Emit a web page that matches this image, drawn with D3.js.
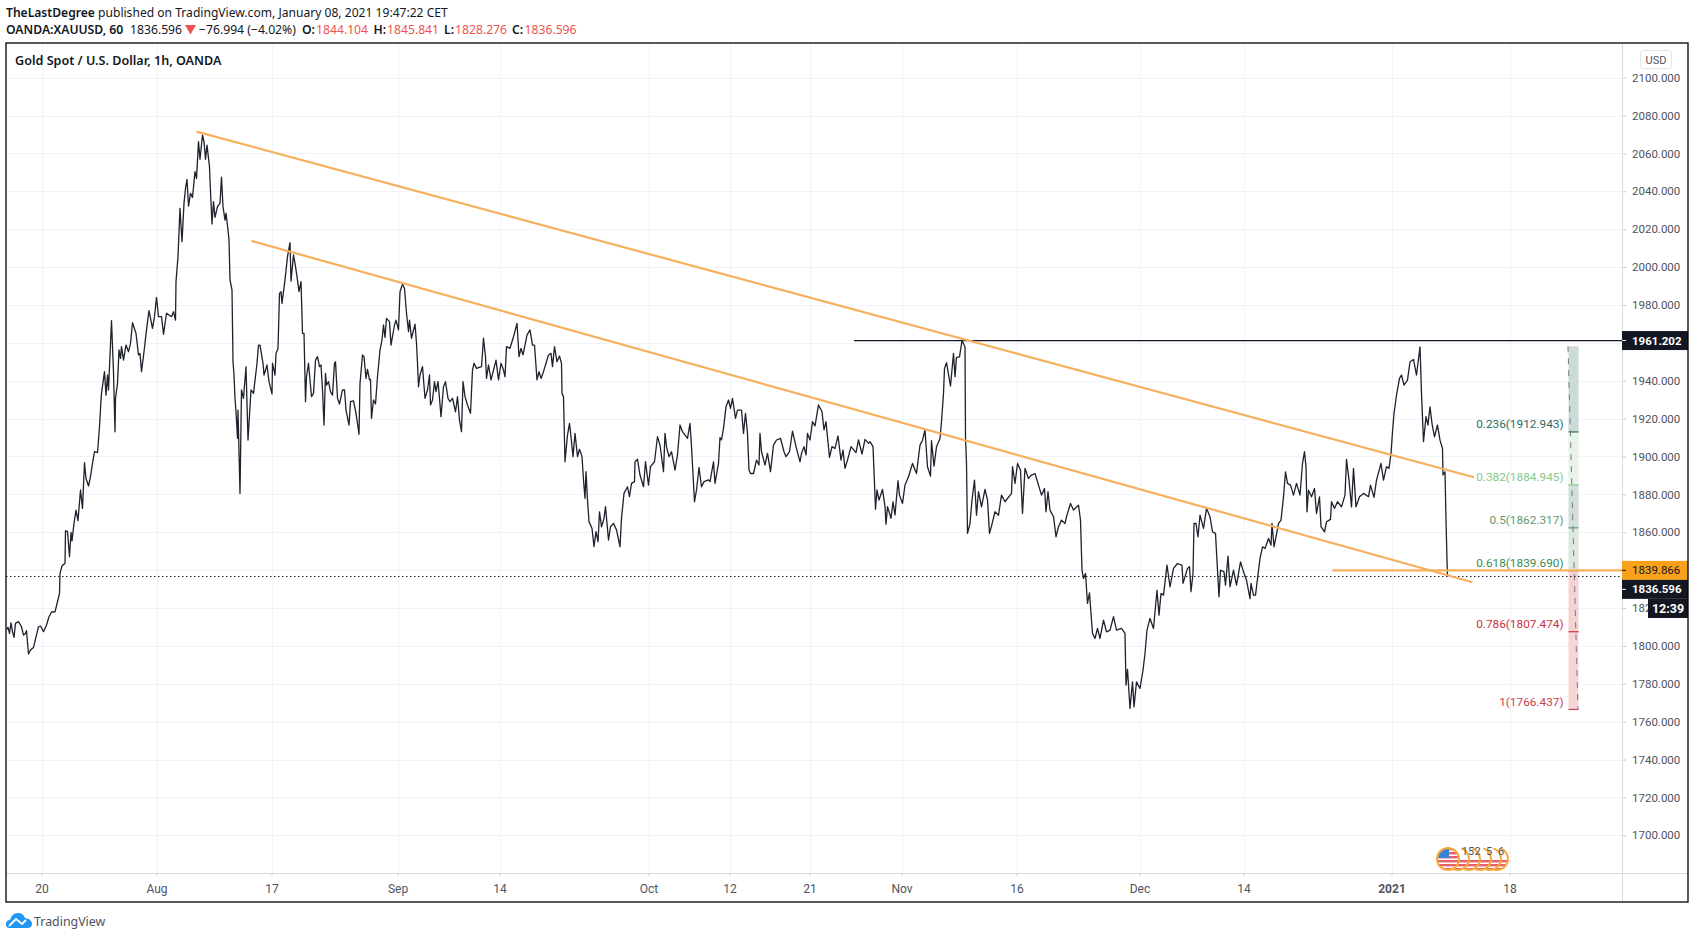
<!DOCTYPE html>
<html>
<head>
<meta charset="utf-8">
<script src="https://cdn.jsdelivr.net/npm/d3@7"></script>
<style>
  body { margin: 0; background: #fff; font-family: Roboto, sans-serif; }
  svg { display: block; }
  .grid line { stroke: #f0f3fa; }
  .axis text { font-family: Roboto, sans-serif; font-size: 11.5px; fill: #50535e; }
  .axis line { stroke: #c4c7cf; }
  .head { font-family: "Noto Sans", sans-serif; font-size: 12.2px; fill: #131722; }
</style>
</head>
<body>
<div id="my_chart"></div>
<script>
// values: [bar index, close]
var priceTrace = [[0,1808.7],[2,1809.8],[5,1806.6],[8,1812.2],[11,1807.5],[14,1804.5],[17,1811.9],[23,1812.8],[29,1810.1],[33,1805.7],[37,1806.6],[39,1808],[43,1795.7],[47,1797.8],[53,1799.2],[58,1804.8],[63,1810.1],[67,1810.5],[73,1807.5],[79,1811],[84,1815.4],[89,1817.9],[96,1818],[101,1823.3],[105,1827.7],[106,1838.3],[110,1842.2],[116,1843.6],[117,1860.8],[121,1860.3],[125,1847.1],[128,1859.9],[130,1855.4],[134,1864.7],[138,1871.7],[142,1866.1],[147,1882.3],[151,1872.6],[155,1896.7],[158,1888.4],[163,1884.4],[167,1889.3],[171,1896.4],[175,1902.5],[181,1902],[185,1915.7],[188,1929.8],
[189,1933.3],[195,1944.8],[198,1932.4],[201,1943],[203,1935.1],[209,1971.7],[213,1944.8],[216,1913],[217,1930.7],[221,1938.6],[224,1956.2],[227,1951.8],[229,1958],[233,1950.9],[238,1958.8],[243,1955.3],[247,1959.7],[251,1970.6],[258,1965],[263,1953.6],[266,1954.4],[269,1944.8],[274,1955.3],[279,1966.8],[284,1977],[291,1967.6],[295,1973.8],[299,1984],[303,1973.8],[309,1973.8],[313,1964.5],[319,1975.6],[329,1973.8],[333,1976.4],[337,1972],[338,1992.3],[342,2005.5],[346,2031],[350,2013.4],[354,2033.6],[357,2041.6],[360,2046.3],[363,2032.2],[367,2038.9],[371,2036.8],[376,2050.4],[379,2046.8],[383,2066.2],[386,2056.9],[391,2069.7],[394,2066.2],[397,2056.9],[400,2064.4],[405,2053],[406,2046],[410,2022.7],[413,2034.5],[416,2026.2],[421,2031.9],[426,2033.6],[429,2047.4],[432,2031.9],[436,2024.8],[438,2028.4],[442,2019.6],[444,2014.3],[446,1993.2],[450,1987.9],[452,1950],[454,1943],[456,1930.7],[458,1923.6],[461,1909.6],[462,1924.5],[466,1880.5],[469,1935.1],[473,1930.7],[478,1947.4],[482,1908.7],[488,1935.1],[493,1933.3],[500,1949.2],[503,1958.8],[506,1958.8],[512,1949.2],[514,1943],[520,1948.3],[524,1939.5],[530,1933],[531,1949.2],[536,1943],[538,1954.4],[542,1957],[545,1986.1],[548,1987],[550,1980.8],[556,1993.2],[561,2005.5],[566,2012.9],[568,1992.6],[573,2006.4],[576,2002],[580,1994.9],[584,1987],
[588,1992.3],[591,1965],[594,1965],[597,1928.9],[599,1942.1],[603,1949.2],[606,1940.4],[609,1931.6],[613,1933.3],[617,1950.9],[621,1952.7],[625,1947.4],[628,1948.3],[631,1935.1],[634,1916.6],[637,1943.9],[639,1937.7],[643,1939.5],[647,1934.2],[651,1932.4],[655,1949.2],[657,1950],[661,1930.7],[665,1927.7],[671,1935.1],[675,1935.1],[678,1924.5],[684,1916.6],[687,1928.9],[693,1929.4],[698,1922.8],[701,1917.5],[704,1911.7],[706,1938.6],[711,1953.6],[714,1952.7],[718,1941.2],[721,1946],[725,1940.4],[727,1940.7],[729,1920.1],[733,1929.8],[737,1927.7],[741,1942.1],[746,1956.2],[750,1961.5],[753,1969.4],[756,1962.9],[759,1972.9],[765,1971.2],[768,1958.8],[775,1969.4],[778,1972],[783,1966.8],[786,1987],[791,1990.9],[795,1988.8],[799,1975.6],[803,1965.9],[805,1972],[809,1962.4],[816,1969.9],[819,1959.7],[821,1949.2],[823,1936.8],[826,1943],[831,1947.4],[836,1930.7],[841,1935.1],[845,1943],[847,1927.2],[851,1929.8],[855,1939.5],[858,1934.2],[862,1939.5],[865,1930.7],[868,1921],[873,1936.8],[877,1939.5],[882,1930.7],[886,1928.9],[891,1930.7],[897,1923.6],[901,1931.6],[905,1919.2],[909,1913.1],[912,1939.5],[916,1931.6],[921,1927.2],[927,1922.8],[931,1945.6],[934,1949.2],[939,1946.5],[949,1947.4],[953,1962.4],[957,1952.7],[959,1941.2],[963,1948.3],[968,1940.4],[973,1945.6],[978,1950.9],[983,1940.4],[988,1949.2],[993,1945.6],[996,1942.1],[999,1958],[1006,1957.1],[1013,1963.2],[1020,1970.3],[1024,1952.7],[1028,1957.1],[1032,1953.6],[1040,1964.1],[1046,1966.8],[1051,1958.8],[1055,1958.8],[1060,1940.4],[1064,1944.8],[1068,1941.2],[1073,1944.8],[1078,1949.2],[1083,1953.6],[1088,1954.4],[1091,1947.4],[1095,1958],[1100,1950],[1105,1953],[1109,1949.2],[1110,1933.3],[1113,1931.6],[1116,1897.2],[1121,1911.3],[1125,1917.5],[1128,1910.4],[1132,1899.9],[1136,1912.2],[1141,1899.9],[1145,1903.8],[1150,1899.9],[1153,1887.6],[1156,1877.9],[1158,1892],[1161,1877],[1164,1865.6],[1170,1862],[1174,1852.4],[1178,1860.3],[1182,1855],[1185,1870.8],
[1189,1862.9],[1194,1867.3],[1197,1873.5],[1203,1855.9],[1207,1862.9],[1213,1864.7],[1219,1861.2],[1226,1852.4],[1229,1867.3],[1234,1880.5],[1241,1884],[1245,1878.8],[1249,1885.8],[1255,1886.7],[1256,1897.2],[1261,1898.5],[1266,1890.2],[1273,1884],[1277,1897.2],[1283,1884.9],[1287,1894.6],[1295,1897.2],[1301,1910.4],[1306,1906],[1313,1892],[1316,1912.2],[1319,1905.2],[1324,1899.9],[1329,1902.5],[1336,1892.8],[1341,1900.8],[1346,1916.6],[1351,1913.1],[1361,1909.6],[1366,1917.5],[1369,1905.2],[1375,1876.1],[1379,1882.3],[1384,1894.2],[1389,1884],[1394,1886.7],[1403,1887.6],[1406,1886.7],[1413,1897.2],[1416,1885.8],[1423,1896.4],[1426,1910],[1429,1908.7],[1433,1914.8],[1438,1926.3],[1443,1929.8],[1447,1925.4],[1451,1930.7],[1457,1920.1],[1461,1924.5],[1469,1924.5],[1473,1912.2],[1477,1922.8],[1481,1912.2],[1484,1892.8],[1487,1891],[1493,1891],[1499,1898.1],[1504,1895.5],[1506,1912.2],[1509,1902.5],[1516,1895.5],[1521,1901.6],[1527,1892],[1533,1906],[1539,1908.7],[1547,1909.6],[1554,1902.5],[1558,1899.9],[1565,1902.5],[1571,1913.4],[1578,1905.2],[1586,1897.2],[1589,1901.6],[1594,1905.2],[1598,1900.8],[1601,1912.2],[1606,1908.7],[1611,1918.4],[1616,1916.1],[1623,1927.2],[1630,1923.6],[1634,1914],[1638,1918.4],[1645,1899.5],[1650,1905.2],[1656,1904.3],[1662,1910.8],[1668,1898.1],[1672,1903.4],[1676,1893.7],[1681,1898.1],[1688,1905.2],[1698,1902],[1703,1908.7],[1710,1901.3],[1716,1909],[1723,1906.9],[1726,1907.8],[1732,1905.2],[1735,1885.8],[1737,1872.1],[1740,1882.3],[1744,1877],[1751,1882.6],[1756,1873.5],[1758,1864.3],[1761,1873.5],[1768,1867.3],[1772,1876.1],[1776,1869.1],[1782,1887.2],[1785,1879.6],
[1791,1875.2],[1796,1884.9],[1803,1889.3],[1811,1896.3],[1819,1891],[1826,1906],[1831,1908.6],[1836,1913.9],[1841,1894.6],[1847,1889.6],[1849,1908.3],[1854,1894.9],[1859,1905.1],[1866,1909.5],[1869,1918.3],[1873,1933.3],[1875,1946.5],[1879,1949.5],[1887,1937.2],[1893,1954.4],[1896,1942.1],[1899,1952.3],[1905,1952.6],[1910,1961.1],[1916,1957.9],[1917,1910.4],[1919,1896.3],[1921,1859.4],[1926,1864.6],[1930,1877],[1935,1887.5],[1939,1869],[1943,1881.4],[1949,1873.4],[1956,1882.6],[1961,1877],[1965,1859.4],[1969,1863.2],[1976,1870.8],[1983,1869],[1989,1879.6],[1996,1876.1],[2009,1880.5],[2011,1894.6],[2016,1885.8],[2021,1896.3],[2027,1892.8],[2031,1869.9],[2036,1893.7],[2043,1888.4],[2049,1890.2],[2056,1891],[2063,1884.9],[2069,1879.6],[2075,1883.1],[2078,1870.8],[2082,1881.4],[2086,1871.7],[2093,1868.2],[2098,1857.6],[2103,1862.9],[2109,1866.4],[2116,1864.6],[2119,1868.2],[2127,1875.2],[2133,1871.7],[2143,1874.3],[2147,1866.4],[2150,1840],[2153,1835.6],[2157,1838.2],[2161,1822.4],[2165,1828],[2168,1817.1],[2171,1806.6],[2176,1803.9],[2181,1809.2],[2186,1803.9],[2193,1813.6],[2199,1807.4],[2206,1808.3],[2213,1815.4],[2219,1808.3],[2229,1809.2],[2236,1806.6],[2238,1779.3],[2241,1787.6],[2246,1767],[2251,1781],[2254,1767.8],[2259,1781],[2266,1777.5],[2272,1787.2],[2276,1796],[2280,1808.3],[2286,1814.5],[2293,1809.2],[2300,1829.4],[2304,1816.2],[2308,1827.7],[2313,1826.8],[2320,1842.6],[2326,1831.2],[2333,1840.9],[2341,1843.5],[2350,1842.6],[2352,1833],[2361,1840.9],[2365,1841.8],[2368,1828.6],[2372,1838.2],[2374,1864.6],[2378,1864.6],[2382,1857.6],[2386,1869],
[2393,1862],[2399,1872.6],[2406,1868.2],[2411,1860.2],[2417,1859.4],[2421,1840],[2424,1825.9],[2427,1840],[2434,1839.1],[2437,1832.1],[2442,1847.4],[2446,1831.2],[2453,1840],[2459,1832.1],[2467,1844.4],[2473,1839.1],[2479,1834.7],[2486,1825],[2488,1833],[2493,1826.8],[2497,1826.8],[2506,1846.2],[2511,1852.3],[2516,1851.4],[2523,1856.7],[2528,1853.2],[2530,1864.6],[2534,1852.3],[2538,1857.6],[2543,1864.6],[2548,1866.4],[2553,1878.7],[2557,1891.9],[2561,1885.8],[2567,1884.9],[2573,1879.6],[2579,1885.8],[2586,1879.6],[2591,1896.3],[2595,1902.5],[2598,1894.6],[2600,1870.8],[2603,1882.2],[2609,1878.7],[2615,1883.1],[2619,1869.9],[2625,1878.7],[2628,1862.9],[2635,1860.2],[2639,1865.5],[2647,1866.8],[2649,1876.1],[2655,1872.6],[2661,1876.1],[2669,1873.4],[2676,1879.6],[2679,1898.4],[2684,1887.5],[2689,1873.4],[2693,1893.7],[2698,1873.4],[2705,1878.7],[2713,1880.5],[2723,1878.7],[2727,1884.9],[2734,1878.4],[2739,1887.5],[2748,1896.3],[2753,1887.5],[2759,1894.6],[2764,1893.7],[2768,1901.6],[2771,1913],[2774,1922.7],[2779,1932.4],[2785,1941.2],[2789,1943],[2794,1937.7],[2801,1940.3],[2806,1950],[2813,1951.2],[2819,1943],[2826,1957.9],[2829,1933.3],[2833,1907.8],[2838,1921],[2842,1916.6],[2846,1926.2],[2850,1917.4],[2855,1910.4],[2861,1916.6],[2866,1908.6],[2871,1904.2],[2872,1890.2],[2876,1891.9],[2878,1866.4],[2880,1845.3],[2881,1836.6]];

var timeTickBars = [69, 299, 529, 781, 985, 1283, 1445, 1605, 1789, 2019, 2265, 2473, 2769, 3005];
var timeTickLabels = ["20", "Aug", "17", "Sep", "14", "Oct", "12", "21", "Nov", "16", "Dec", "14", "2021", "18"];
var priceTicks = d3.range(1700, 2101, 20);
// these two sit fully under the price tags in the picture
var hiddenPriceTicks = [1840, 1960];

// trend lines drawn by the author: [bar, price] end points
var trendLines = [
    [[379, 2071.5], [2934, 1889]],
    [[489, 2013.8], [2931, 1833.6]]
];
var supportPrice = 1839.866, supportStartBar = 2651;
var resistancePrice = 1961.202, resistanceStartBar = 1694;
var lastPrice = 1836.596;

var fibRatios = ["0.236", "0.382", "0.5", "0.618", "0.786", "1"];
var fibPrices = [1912.943, 1884.945, 1862.317, 1839.690, 1807.474, 1766.437];
var fibTopPrice = 1958.2;
var fibStartBar = 3123, fibEndBar = 3143;

var eventBars = [2882, 2902, 2924, 2946, 2966, 2980];
var eventCountBars = [2922, 2941, 2964, 2988];
var eventCounts = ["15", "2", "5", "6"];

var width = 1695, height = 939;
var frame = {left: 6, top: 43, right: 1688, bottom: 902};
var axisX = 1622, axisY = 873;
var fibTextColors = ["#2c6b5e", "#86c78a", "#5f9a70", "#3d8b4c", "#c8323f", "#c8404e"];
var fibBandColors = ["#cddad8", "#e9f4e8", "#d2ded8", "#dce9dc", "#f4d3d3", "#f6d6d5"];
var orange = "#f6b05c", orange2 = "#f9a11b", dark = "#131722";

var svg = d3.select("#my_chart").append("svg").attr("width", width).attr("height", height);

var x = d3.scaleLinear().domain([0, 3230]).range([7, axisX]);
var y = d3.scaleLinear().domain([1700, 1940]).range([835.3, 380.7]);

// Gridlines first so everything else sits above them
svg.append("g").attr("class", "grid")
    .selectAll("line").data(priceTicks).enter().append("line")
    .attr("x1", frame.left).attr("x2", axisX)
    .attr("y1", d => Math.round(y(d)) + 0.5).attr("y2", d => Math.round(y(d)) + 0.5);
svg.append("g").attr("class", "grid")
    .selectAll("line").data(timeTickBars).enter().append("line")
    .attr("y1", frame.top).attr("y2", axisY)
    .attr("x1", d => Math.round(x(d)) + 0.5).attr("x2", d => Math.round(x(d)) + 0.5);

// Fib retracement column
var fibEdges = [fibTopPrice].concat(fibPrices);
svg.append("g").selectAll("rect").data(fibPrices).enter().append("rect")
    .attr("x", x(fibStartBar)).attr("width", x(fibEndBar) - x(fibStartBar))
    .attr("y", (d, i) => y(fibEdges[i])).attr("height", (d, i) => y(d) - y(fibEdges[i]))
    .attr("fill", (d, i) => fibBandColors[i]);
svg.append("g").selectAll("line").data(fibPrices).enter().append("line")
    .attr("x1", x(fibStartBar)).attr("x2", x(fibEndBar))
    .attr("y1", d => y(d)).attr("y2", d => y(d))
    .attr("stroke", (d, i) => fibTextColors[i]).attr("stroke-width", 1.2);
svg.append("line")
    .attr("x1", x(fibStartBar - 1)).attr("y1", y(fibTopPrice))
    .attr("x2", x(fibEndBar - 1)).attr("y2", y(fibPrices[5]))
    .attr("stroke", "#787b86").attr("stroke-dasharray", "6 6");
svg.append("g").selectAll("text").data(fibPrices).enter().append("text")
    .attr("x", x(fibStartBar) - 5).attr("y", d => y(d) - 3.5)
    .attr("text-anchor", "end").attr("font-size", 11.8)
    .attr("fill", (d, i) => fibTextColors[i])
    .text((d, i) => fibRatios[i] + "(" + d3.format(".3f")(d) + ")");

// Last price dotted line, resistance and support
svg.append("line")
    .attr("x1", frame.left).attr("x2", axisX).attr("y1", y(lastPrice)).attr("y2", y(lastPrice))
    .attr("stroke", dark).attr("stroke-dasharray", "1.5 2.5");
svg.append("line")
    .attr("x1", x(resistanceStartBar)).attr("x2", axisX).attr("y1", y(resistancePrice)).attr("y2", y(resistancePrice))
    .attr("stroke", dark).attr("stroke-width", 1.2);

// Price line
var line = d3.line().x(d => x(d[0])).y(d => y(d[1]));
svg.append("path").datum(priceTrace)
    .attr("d", line).attr("fill", "none").attr("stroke", "#1e222d")
    .attr("stroke-width", 1.3).attr("stroke-linejoin", "round");

svg.append("g").selectAll("path").data(trendLines).enter().append("path")
    .attr("d", line).attr("fill", "none").attr("stroke", orange).attr("stroke-width", 2.2);
svg.append("line")
    .attr("x1", x(supportStartBar)).attr("x2", axisX).attr("y1", y(supportPrice)).attr("y2", y(supportPrice))
    .attr("stroke", orange).attr("stroke-width", 2.2);

// Axes
var yAxis = d3.axisRight(y).tickValues(priceTicks.filter(d => !hiddenPriceTicks.includes(d)))
    .tickSize(4).tickPadding(6).tickFormat(d3.format(".3f"));
var yg = svg.append("g").attr("class", "axis").attr("transform", "translate(" + axisX + ",0)").call(yAxis);
yg.select(".domain").remove();

var xAxis = d3.axisBottom(x).tickValues(timeTickBars).tickSize(3).tickPadding(8)
    .tickFormat((d, i) => timeTickLabels[i]);
var xg = svg.append("g").attr("class", "axis").attr("transform", "translate(0," + axisY + ")").call(xAxis);
xg.select(".domain").remove();
xg.selectAll("text").style("font-size", "12px").attr("font-weight", (d, i) => timeTickLabels[i] == "2021" ? 700 : 400);

svg.append("line").attr("x1", frame.left).attr("x2", frame.right).attr("y1", axisY + 0.5).attr("y2", axisY + 0.5).attr("stroke", "#d6d9e0");
svg.append("line").attr("x1", axisX + 0.5).attr("x2", axisX + 0.5).attr("y1", frame.top).attr("y2", frame.bottom).attr("stroke", "#d6d9e0");

// Price tags on the axis, stacked when they would collide
function priceTag(label, center, color) {
    var g = svg.append("g");
    g.append("rect").attr("x", axisX).attr("y", center - 9.5).attr("width", frame.right - axisX).attr("height", 19).attr("fill", color);
    g.append("line").attr("x1", axisX).attr("x2", axisX + 4).attr("y1", center).attr("y2", center)
        .attr("stroke", color == orange2 ? dark : "#fff");
    g.append("text").attr("x", axisX + 10).attr("y", center + 4).text(label)
        .attr("font-size", 11.5).attr("font-weight", color == orange2 ? 400 : 700)
        .attr("fill", color == orange2 ? dark : "#fff");
}
priceTag(d3.format(".3f")(resistancePrice), y(resistancePrice), dark);
priceTag(d3.format(".3f")(supportPrice), y(supportPrice), orange2);
priceTag(d3.format(".3f")(lastPrice), y(supportPrice) + 19, dark);

// Countdown below the last price tag
svg.append("rect").attr("x", 1648).attr("y", 599).attr("width", frame.right - 1648).attr("height", 19).attr("fill", dark);
svg.append("text").attr("x", 1668).attr("y", 612.8).attr("text-anchor", "middle")
    .attr("font-size", 12.5).attr("font-weight", 700).attr("fill", "#fff").text("12:39");

// Economic event flags along the bottom
var flags = svg.append("g");
var flagY = 859, flagR = 11;
var defs = svg.append("defs");
eventBars.slice().reverse().forEach(function (bar, n) {
    var cx = x(bar), id = "flagclip" + n, first = bar == eventBars[0];
    defs.append("clipPath").attr("id", id).append("circle").attr("cx", cx).attr("cy", flagY).attr("r", flagR);
    var g = flags.append("g").attr("clip-path", "url(#" + id + ")");
    g.append("rect").attr("x", cx - flagR).attr("y", flagY - flagR).attr("width", 2 * flagR).attr("height", 2 * flagR).attr("fill", "#fff");
    d3.range(first ? 0 : 3, 6).forEach(function (k) {
        g.append("rect").attr("x", cx - flagR).attr("y", flagY - flagR + k * 4).attr("width", 2 * flagR).attr("height", 2.4).attr("fill", "#e8606a");
    });
    if (first) {
        g.append("rect").attr("x", cx - flagR).attr("y", flagY - flagR).attr("width", flagR + 1).attr("height", flagR - 1).attr("fill", "#3b82d6");
    }
});
eventBars.forEach(function (bar, n) {
    var arc = d3.arc().innerRadius(flagR - 1).outerRadius(flagR + 1)
        .startAngle(n == 0 ? 0 : 0.1 * Math.PI).endAngle(n == 0 ? 2 * Math.PI : 1.15 * Math.PI);
    flags.append("path").attr("d", arc()).attr("fill", "#f7a93b")
        .attr("transform", "translate(" + x(bar) + "," + flagY + ")");
});
flags.selectAll("text").data(eventCounts).enter().append("text")
    .attr("x", (d, i) => x(eventCountBars[i])).attr("y", 855).attr("text-anchor", "middle")
    .attr("font-size", 11).attr("fill", "#50535e").text(d => d);

// Frame
svg.append("rect").attr("x", frame.left).attr("y", frame.top)
    .attr("width", frame.right - frame.left).attr("height", frame.bottom - frame.top)
    .attr("fill", "none").attr("stroke", "#000").attr("stroke-width", 1.3);

// Chart title and currency box
svg.append("text").attr("class", "head").attr("x", 15).attr("y", 65).attr("font-weight", 600)
    .style("font-size", "12.6px").text("Gold Spot / U.S. Dollar, 1h, OANDA");
svg.append("rect").attr("x", 1640.5).attr("y", 50.5).attr("width", 31).attr("height", 18).attr("rx", 3)
    .attr("fill", "#fff").attr("stroke", "#e0e3eb");
svg.append("text").attr("x", 1656).attr("y", 63.5).attr("text-anchor", "middle").attr("font-size", 11).attr("fill", "#50535e").text("USD");

// Header lines above the frame
var red = "#ef5350";
var line1 = svg.append("text").attr("class", "head").attr("x", 6).attr("y", 17).style("font-size", "12.1px");
line1.append("tspan").attr("font-weight", 600).text("TheLastDegree");
line1.append("tspan").text(" published on TradingView.com, January 08, 2021 19:47:22 CET");

var line2 = svg.append("text").attr("class", "head").attr("y", 34);
[
    ["OANDA:XAUUSD, 60", 600, dark, 6],
    ["1836.596", 400, dark, 130],
    ["−76.994 (−4.02%)", 400, dark, 199],
    ["O:", 600, dark, 302], ["1844.104", 400, red, 316],
    ["H:", 600, dark, 373.5], ["1845.841", 400, red, 387],
    ["L:", 600, dark, 444], ["1828.276", 400, red, 455],
    ["C:", 600, dark, 512], ["1836.596", 400, red, 524.5]
].forEach(function (p) {
    line2.append("tspan").attr("x", p[3]).attr("font-weight", p[1]).attr("fill", p[2]).text(p[0]);
});
svg.append("path").attr("d", "M185 25 h11 l-5.5 9.5 z").attr("fill", red);

// TradingView logo and name
var logo = svg.append("g").attr("transform", "translate(6,913)");
logo.append("path").attr("d", "M4 15 Q-1 15 0 10 Q1 7 4 7 Q6 0 12 0 Q17 0 19 5 Q26 6 26 11 Q26 15 21 15 Z").attr("fill", "#2196f3");
logo.append("path").attr("d", "M3 13 L10 6 L16 11 L20 7").attr("fill", "none").attr("stroke", "#fff").attr("stroke-width", 1.8);
svg.append("text").attr("x", 34).attr("y", 925.5).attr("font-family", "'Noto Sans', sans-serif").attr("font-size", 12.4).attr("fill", "#50535e").text("TradingView");
</script>
</body>
</html>
